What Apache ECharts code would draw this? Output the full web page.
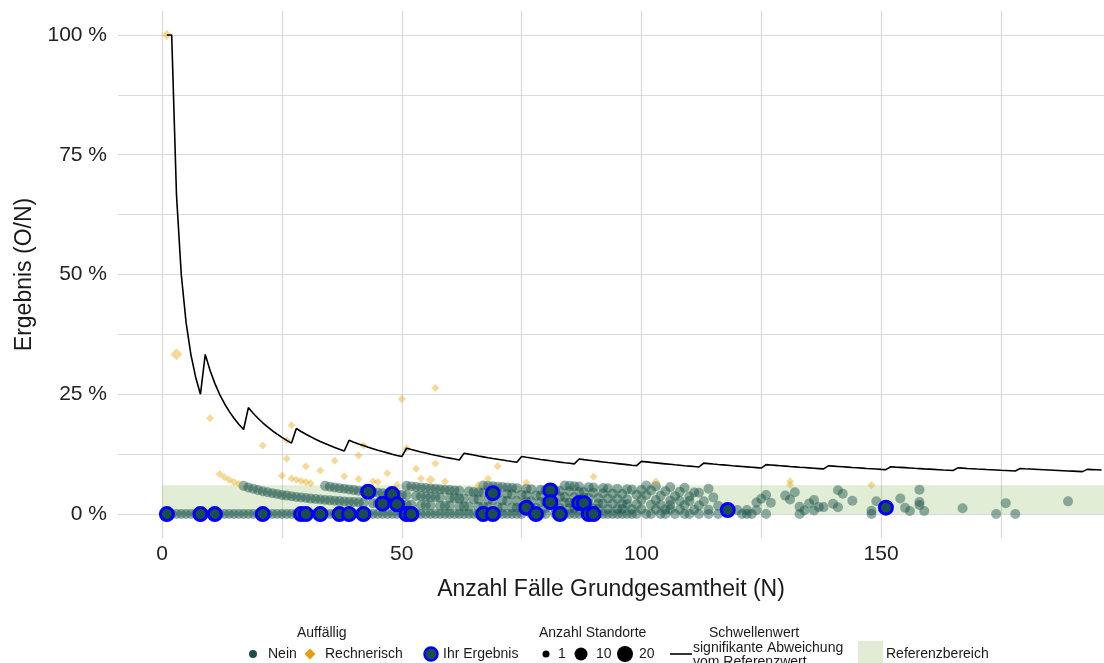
<!DOCTYPE html>
<html>
<head>
<meta charset="utf-8">
<title>Ergebnis (O/N)</title>
<script src="https://cdn.jsdelivr.net/npm/echarts@6/dist/echarts.min.js"></script>
<style>
  html, body { margin: 0; padding: 0; background: #fff; }
  #chart { width: 1104px; height: 663px; }
</style>
</head>
<body>
<div id="chart"></div>
<script>
// Schwellenwert (signifikante Abweichung) in %, one value per N = 1, 2, 3, ...
const thresholdPct = [100, 100, 66.67, 50, 40, 33.33, 28.57, 25,
  33.33, 30, 27.27, 25, 23.08, 21.43, 20, 18.75, 17.65,
  22.22, 21.05, 20, 19.05, 18.18, 17.39, 16.67, 16, 15.38, 14.81,
  17.86, 17.24, 16.67, 16.13, 15.63, 15.15, 14.71, 14.29, 13.89, 13.51, 13.16,
  15.38, 15, 14.63, 14.29, 13.95, 13.64, 13.33, 13.04, 12.77, 12.5, 12.24, 12,
  13.73, 13.46, 13.21, 12.96, 12.73, 12.5, 12.28, 12.07, 11.86, 11.67, 11.48, 11.29,
  12.7, 12.5, 12.31, 12.12, 11.94, 11.76, 11.59, 11.43, 11.27, 11.11, 10.96, 10.81,
  12, 11.84, 11.69, 11.54, 11.39, 11.25, 11.11, 10.98, 10.84, 10.71, 10.59, 10.47,
  11.49, 11.36, 11.24, 11.11, 10.99, 10.87, 10.75, 10.64, 10.53, 10.42, 10.31, 10.2, 10.1,
  11, 10.89, 10.78, 10.68, 10.58, 10.48, 10.38, 10.28, 10.19, 10.09, 10, 9.91, 9.82,
  10.62, 10.53, 10.43, 10.34, 10.26, 10.17, 10.08, 10, 9.92, 9.84, 9.76, 9.68, 9.6,
  10.32, 10.24, 10.16, 10.08, 10, 9.92, 9.85, 9.77, 9.7, 9.63, 9.56, 9.49, 9.42,
  10.07, 10, 9.93, 9.86, 9.79, 9.72, 9.66, 9.59, 9.52, 9.46, 9.4, 9.33, 9.27,
  9.87, 9.8, 9.74, 9.68, 9.62, 9.55, 9.49, 9.43, 9.38, 9.32, 9.26, 9.2, 9.15, 9.09,
  9.64, 9.58, 9.52, 9.47, 9.41, 9.36, 9.3, 9.25, 9.2, 9.14, 9.09, 9.04, 8.99,
  9.5, 9.44, 9.39, 9.34, 9.29, 9.24, 9.19, 9.14, 9.09, 9.04, 8.99, 8.95, 8.9, 8.85,
  9.33, 9.28, 9.23, 9.18];

// Auffällig = Nein: N of each Standort, grouped by O (index = O)
const neinN = [
  [1,2,3,4,5,6,7,9,10,12,13,14,15,16,17,18,19,20,22,23,24,25,26,27,28,31,32,34,35,36,38,40,41,43,44,45,46,47,48,49,50,
   53,54,55,56,57,58,59,60,61,62,63,64,65,66,68,70,71,72,73,74,75,77,79,80,82,84,85,86,87,88,91,92,93,94,95,96,97,98,99,
   101,102,104,105,107,109,110,112,114,116,121,122,123,126,133,148,174,178],
  [17,18,19,20,21,22,23,24,25,26,27,28,29,30,31,32,33,34,35,36,37,38,39,40,41,42,44,45,47,48,50,51,52,54,55,56,58,59,60,
   62,63,64,66,67,68,70,71,73,74,75,77,78,80,82,83,85,86,88,90,91,93,95,96,98,100,103,105,106,108,111,114,120,122,124,
   134,136,148,156,159],
  [34,35,36,37,38,39,40,41,42,43,44,45,46,47,49,50,51,53,54,55,56,57,58,60,61,62,63,65,66,68,69,71,72,74,76,77,79,80,82,
   84,85,86,89,91,92,94,96,97,99,102,104,106,109,112,116,133,137,138,141,155,167],
  [51,52,53,54,55,56,57,58,59,60,61,62,64,65,66,67,69,70,72,73,75,76,78,79,81,83,84,86,88,89,91,93,95,97,100,103,106,108,
   110,113,124,127,135,140,158],
  [67,68,69,70,71,72,73,74,76,77,79,80,82,83,85,87,88,90,92,94,96,99,101,104,107,110,115,125,131,136,144,149,158,176],
  [84,85,86,87,89,90,92,93,95,97,98,100,102,105,108,111,112,126,130,154,189],
  [101,103,106,109,114,132,142],
  [141],
  [158]
];

// Auffällig = Rechnerisch
const rechnN = [1, 3, 10, 12, 13, 14, 15, 16, 21, 25, 26, 26, 27, 27, 28, 29, 30, 31, 30, 33, 36, 38, 41, 41, 42,
  44, 45, 47, 49, 50, 51, 53, 54, 56, 57, 57, 59, 66, 68, 70, 76, 90, 103, 131, 131, 148];
const rechnO = [1, 1, 2, 1, 1, 1, 1, 1, 3, 2, 3, 4, 5, 2, 2, 2, 2, 2, 3, 3, 4, 3, 5, 3, 6,
  3, 3, 4, 3, 12, 7, 5, 4, 4, 6, 15, 4, 4, 5, 7, 5, 7, 7, 9, 8, 9];
const rechnSites = [2, 3, 1, 1, 1, 1, 1, 1, 1, 1, 1, 1, 1, 1, 1, 1, 1, 1, 1, 1, 1, 1, 1, 1, 1,
  1, 1, 1, 1, 1, 1, 1, 1, 2, 1, 1, 1, 1, 1, 1, 1, 1, 1, 1, 1, 1];

// Ihr Ergebnis
const ihrN = [1, 8, 11, 21, 29, 30, 33, 37, 39, 42, 43, 46, 48, 49, 51, 52, 67, 69, 69, 76, 78, 81, 81, 83, 87, 88, 89, 90, 118, 151];
const ihrO = [0, 0, 0, 0, 0, 0, 0, 0, 0, 0, 2, 1, 2, 1, 0, 0, 0, 0, 3, 1, 0, 4, 2, 0, 2, 2, 0, 0, 1, 2];

const refRange = [0, 6];
const yMajor = [0, 25, 50, 75, 100];
const yGrid = [0, 12.5, 25, 37.5, 50, 62.5, 75, 87.5, 100];
const xMajor = [0, 50, 100, 150];
const xGrid = [0, 25, 50, 75, 100, 125, 150, 175];

const ratio = (o, n) => o / n * 100;
const neinData = [];
neinN.forEach((list, o) => list.forEach(n => neinData.push([n, ratio(o, n)])));
const rechnData = rechnN.map((n, i) => [n, ratio(rechnO[i], n), rechnSites[i]]);
const ihrData = ihrN.map((n, i) => [n, ratio(ihrO[i], n)]);
const thresholdData = thresholdPct.map((v, i) => [i + 1, v]);

const FONT = 'Liberation Sans, Arial, Helvetica, sans-serif';
const TEAL = '#174f4a';
const X_MAX = 196.5;

const chart = echarts.init(document.getElementById('chart'), null, { renderer: 'canvas' });

const txt = (x, y, text) => ({
  type: 'text', x: x, y: y, silent: true,
  style: { text: text, fill: '#1a1a1a', font: '14px ' + FONT, verticalAlign: 'middle', align: 'left' }
});
const dot = (cx, cy, r, fill, stroke, lw) => ({
  type: 'circle', silent: true, shape: { cx: cx, cy: cy, r: r },
  style: { fill: fill, stroke: stroke || null, lineWidth: lw || 0 }
});

const option = {
  animation: false,
  backgroundColor: '#fff',
  grid: { left: 118, right: 0, top: 11, bottom: 125, containLabel: false },
  xAxis: {
    type: 'value', min: -9.2, max: X_MAX,
    name: 'Anzahl Fälle Grundgesamtheit (N)', nameLocation: 'middle', nameGap: 40,
    nameTextStyle: { fontFamily: FONT, fontSize: 23, color: '#1a1a1a' },
    axisLine: { show: false, onZero: false },
    axisTick: { show: false, customValues: xGrid },
    axisLabel: { customValues: xMajor, margin: 6, fontFamily: FONT, fontSize: 21, color: '#222' },
    splitLine: { show: true, lineStyle: { color: '#d9d9d9', width: 1.2 } }
  },
  yAxis: {
    type: 'value', min: -5, max: 105,
    name: 'Ergebnis (O/N)', nameLocation: 'middle', nameGap: 82,
    nameTextStyle: { fontFamily: FONT, fontSize: 23, color: '#1a1a1a' },
    axisLine: { show: false, onZero: false },
    axisTick: { show: false, customValues: yGrid },
    axisLabel: { customValues: yMajor, margin: 11, fontFamily: FONT, fontSize: 21, color: '#222',
      formatter: v => v + ' %' },
    splitLine: { show: true, lineStyle: { color: '#d9d9d9', width: 1.2 } }
  },
  series: [
    {
      name: 'Referenzbereich', type: 'scatter', data: [], z: 1,
      markArea: {
        silent: true,
        itemStyle: { color: 'rgba(120,170,60,0.215)' },
        data: [[{ xAxis: 0, yAxis: refRange[0] }, { xAxis: X_MAX, yAxis: refRange[1] }]]
      }
    },
    {
      name: 'Nein', type: 'scatter', data: neinData, z: 2,
      symbol: 'circle', symbolSize: 10,
      itemStyle: { color: TEAL, opacity: 0.45 }
    },
    {
      name: 'Rechnerisch', type: 'scatter', data: rechnData, z: 3,
      symbol: 'diamond', symbolSize: d => 8 + (d[2] - 1) * 2,
      itemStyle: { color: '#e69f00', opacity: 0.4 }
    },
    {
      name: 'Schwellenwert', type: 'line', data: thresholdData, z: 4,
      showSymbol: false, symbol: 'none',
      lineStyle: { color: '#000', width: 1.6 }
    },
    {
      name: 'Ihr Ergebnis', type: 'scatter', data: ihrData, z: 5,
      symbol: 'circle', symbolSize: 13,
      itemStyle: { color: '#1b4d49', borderColor: '#0000ff', borderWidth: 3, opacity: 1 }
    }
  ],
  graphic: [
    txt(297, 633, 'Auffällig'),
    dot(253, 654, 4, '#1a4f4b'),
    txt(268, 654, 'Nein'),
    { type: 'polygon', silent: true,
      shape: { points: [[310, 648.5], [315.5, 654], [310, 659.5], [304.5, 654]] },
      style: { fill: '#e69f00' } },
    txt(325, 654, 'Rechnerisch'),
    dot(431, 654, 6.5, '#1b4d49', '#0000ff', 2.5),
    txt(443, 654, 'Ihr Ergebnis'),
    txt(539, 633, 'Anzahl Standorte'),
    dot(546, 654, 3.5, '#000'),
    txt(558, 654, '1'),
    dot(581, 654, 6.5, '#000'),
    txt(596, 654, '10'),
    dot(625, 654, 8, '#000'),
    txt(639, 654, '20'),
    { type: 'line', silent: true, shape: { x1: 670, y1: 654, x2: 692, y2: 654 },
      style: { stroke: '#000', lineWidth: 1.6 } },
    txt(709, 633, 'Schwellenwert'),
    txt(693, 648, 'signifikante Abweichung'),
    txt(693, 662, 'vom Referenzwert'),
    { type: 'rect', silent: true, shape: { x: 858, y: 641, width: 25, height: 30 },
      style: { fill: '#e2ecd5' } },
    txt(886, 654, 'Referenzbereich')
  ]
};

chart.setOption(option);
window.addEventListener('resize', chart.resize);
</script>
</body>
</html>
